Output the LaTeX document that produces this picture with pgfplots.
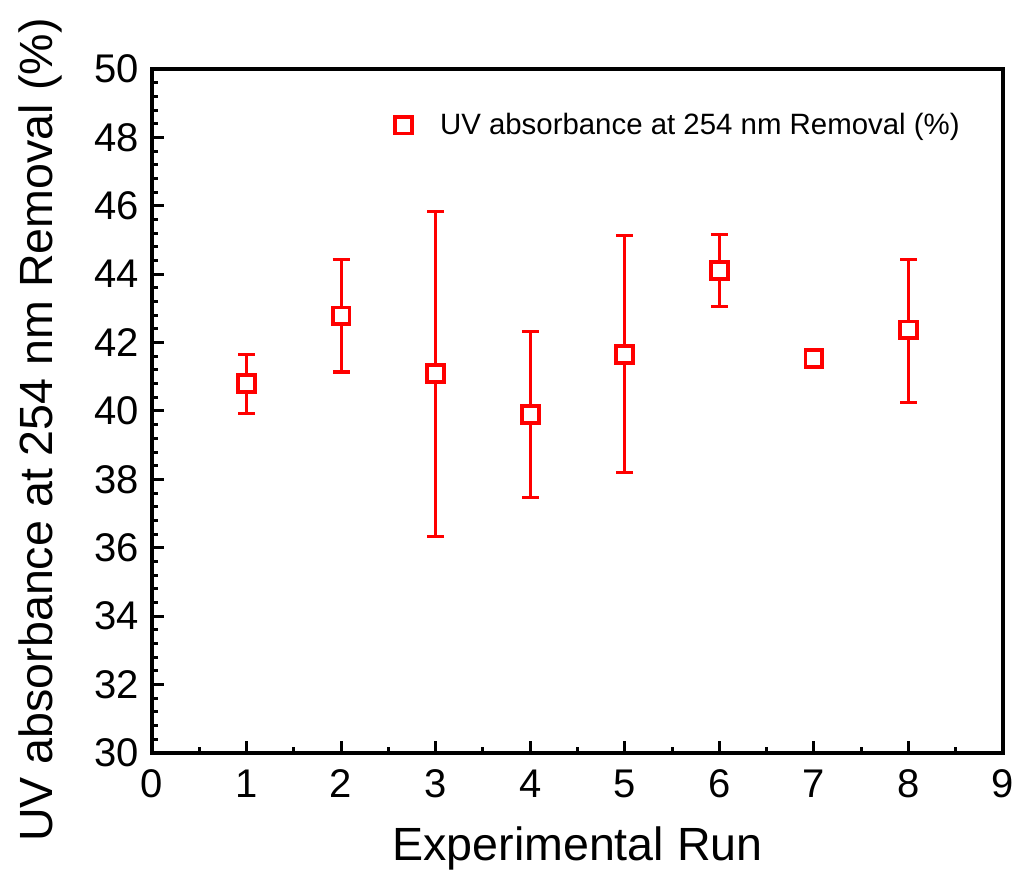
\documentclass[border=0pt]{standalone}
\usepackage{fontspec}
\setmainfont{Liberation Sans}
\usepackage{pgfplots}
\pgfplotsset{compat=1.18}
\definecolor{myred}{RGB}{255,0,0}
\begin{document}
\begin{tikzpicture}
\begin{axis}[
  scale only axis,
  width=425.5pt, height=342pt,
  xmin=0, xmax=9, ymin=30, ymax=50,
  xtick={0,1,...,9}, ytick={30,32,...,50},
  minor x tick num=1, minor y tick num=4,
  tick align=inside,
  xtick pos=bottom, ytick pos=left,
  major tick length=6pt, minor tick length=3pt,
  every tick/.style={black, line width=1.5pt},
  axis line style={line width=2pt},
  /pgf/number format/assume math mode=true,
  ticklabel style={font=\fontsize{20}{23}\selectfont},
  xticklabel style={yshift=-5pt},
  yticklabel style={xshift=-3pt},
  label style={font=\fontsize{23.3}{27}\selectfont},
  xlabel={Experimental Run},
  ylabel={UV absorbance at 254 nm Removal (\%)},
  xlabel style={at={(rel axis cs:0.5,0)}, anchor=center, yshift=-47.5pt},
  ylabel style={at={(rel axis cs:0,0.472)}, anchor=center, yshift=56pt},
  legend style={draw=none, fill=none, at={(rel axis cs:0.283,0.918)}, anchor=west,
    font=\fontsize{14.7}{17}\selectfont, inner sep=1pt},
  legend cell align=left,
  clip=false,
]
\addplot[myred, only marks, line width=1.5pt,
  mark=square*, mark size=4.2pt, mark options={fill=white, line width=1.9pt},
  error bars/.cd, y dir=both, y explicit,
  error bar style={line width=1.5pt, myred},
  error mark options={rotate=90, mark size=4.2pt, line width=1.6pt, myred}]
  table[x=x, y=y, y error plus=ep, y error minus=em] {
x y ep em
1 40.81 0.85 0.88
2 42.78 1.66 1.64
3 41.10 4.73 4.77
4 39.90 2.42 2.42
5 41.66 3.46 3.46
6 44.10 1.05 1.05
7 41.54 0.08 0.08
8 42.37 2.07 2.12
};
\addlegendentry{\hspace{12pt}UV absorbance at 254 nm Removal (\%)}
\end{axis}
\pgfresetboundingbox
\path[use as bounding box] (-76pt,-62pt) rectangle (432pt,376.5pt);
\end{tikzpicture}
\end{document}
